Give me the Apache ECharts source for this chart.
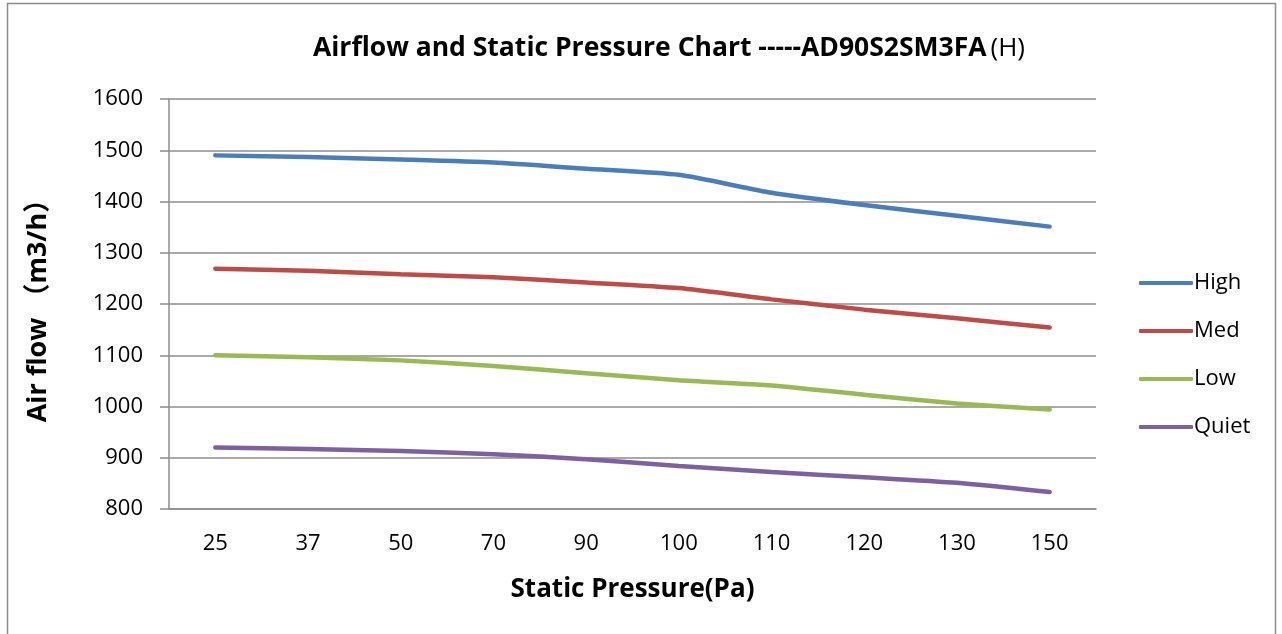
<!DOCTYPE html>
<html>
<head>
<meta charset="utf-8">
<script src="https://cdn.jsdelivr.net/npm/echarts@6/dist/echarts.min.js"></script>
<style>
  html, body { margin: 0; padding: 0; background: #fff; }
  #chart { width: 1282px; height: 634px; }
</style>
</head>
<body>
<div id="chart"></div>
<script>
// static pressure categories (Pa)
var pressures = ['25', '37', '50', '70', '90', '100', '110', '120', '130', '150'];
// airflow per fan speed (m3/h)
var high  = [1490, 1487, 1482, 1476, 1464, 1452, 1417, 1393, 1372, 1351];
var med   = [1269, 1265, 1258, 1252, 1242, 1231, 1209, 1189, 1172, 1154];
var low   = [1100, 1096, 1090, 1079, 1065, 1051, 1041, 1023, 1006,  994];
var quiet = [ 920,  917,  913,  907,  897,  884,  872,  862,  851,  833];
var yTicks = [800, 1600, 100];

var chartDom = document.getElementById('chart');
var myChart = echarts.init(chartDom);
var font = '"Open Sans", "Noto Sans CJK SC", sans-serif';

function line(name, data, color) {
    return {
        name: name,
        type: 'line',
        data: data,
        symbol: 'none',
        smooth: 0.2,
        lineStyle: { color: color, width: 4.5, cap: 'round' },
        itemStyle: { color: color }
    };
}

var option = {
    animation: false,
    textStyle: { fontFamily: font },
    graphic: [{
        type: 'rect',
        shape: { x: 7.5, y: 3.5, width: 1268, height: 640 },
        style: { fill: 'none', stroke: '#8c8c8c', lineWidth: 1.5 }
    }],
    title: {
        text: '{b|Airflow and Static Pressure Chart -----AD90S2SM3FA}{n|(H)}',
        left: 664,
        textAlign: 'center',
        top: 30,
        textStyle: {
            rich: {
                b: { fontFamily: font, fontWeight: 'bold', fontSize: 26.5, color: '#000' },
                n: { fontFamily: font, fontWeight: 'normal', fontSize: 26, color: '#000', padding: [0, 0, 0, 4] }
            }
        }
    },
    legend: {
        orient: 'vertical',
        left: 1134,
        top: 267,
        itemGap: 26,
        itemWidth: 54,
        itemHeight: 4,
        icon: 'roundRect',
        textStyle: { fontFamily: font, fontSize: 22, color: '#000', padding: [0, 0, 0, -4] },
        data: ['High', 'Med', 'Low', 'Quiet']
    },
    grid: { left: 169, right: 186, top: 99, bottom: 125 },
    xAxis: {
        type: 'category',
        data: pressures,
        boundaryGap: true,
        name: 'Static Pressure(Pa)',
        nameLocation: 'middle',
        nameGap: 68,
        nameTextStyle: { fontFamily: font, fontWeight: 'bold', fontSize: 26, color: '#000' },
        axisLine: { lineStyle: { color: '#8c8c8c', width: 1.5 } },
        axisTick: { show: false },
        axisLabel: { fontFamily: font, fontSize: 22, color: '#000', margin: 24 }
    },
    yAxis: {
        type: 'value',
        min: yTicks[0],
        max: yTicks[1],
        interval: yTicks[2],
        name: 'Air flow （m3/h）',
        nameLocation: 'middle',
        nameGap: 117,
        nameTextStyle: { fontFamily: font, fontWeight: 'bold', fontSize: 27, color: '#000' },
        axisLine: { show: true, lineStyle: { color: '#8c8c8c', width: 1.5 } },
        axisTick: { show: true, length: 9, lineStyle: { color: '#8c8c8c', width: 1.5 } },
        axisLabel: {
            fontFamily: font, fontSize: 22, color: '#000', margin: 26,
            formatter: function(v) { return String(v); }
        },
        splitLine: { lineStyle: { color: '#8c8c8c', width: 1.5 } }
    },
    series: [
        line('High', high, '#4a7ebb'),
        line('Med', med, '#be4b48'),
        line('Low', low, '#98b954'),
        line('Quiet', quiet, '#7d60a0')
    ]
};

option && myChart.setOption(option);
</script>
</body>
</html>
